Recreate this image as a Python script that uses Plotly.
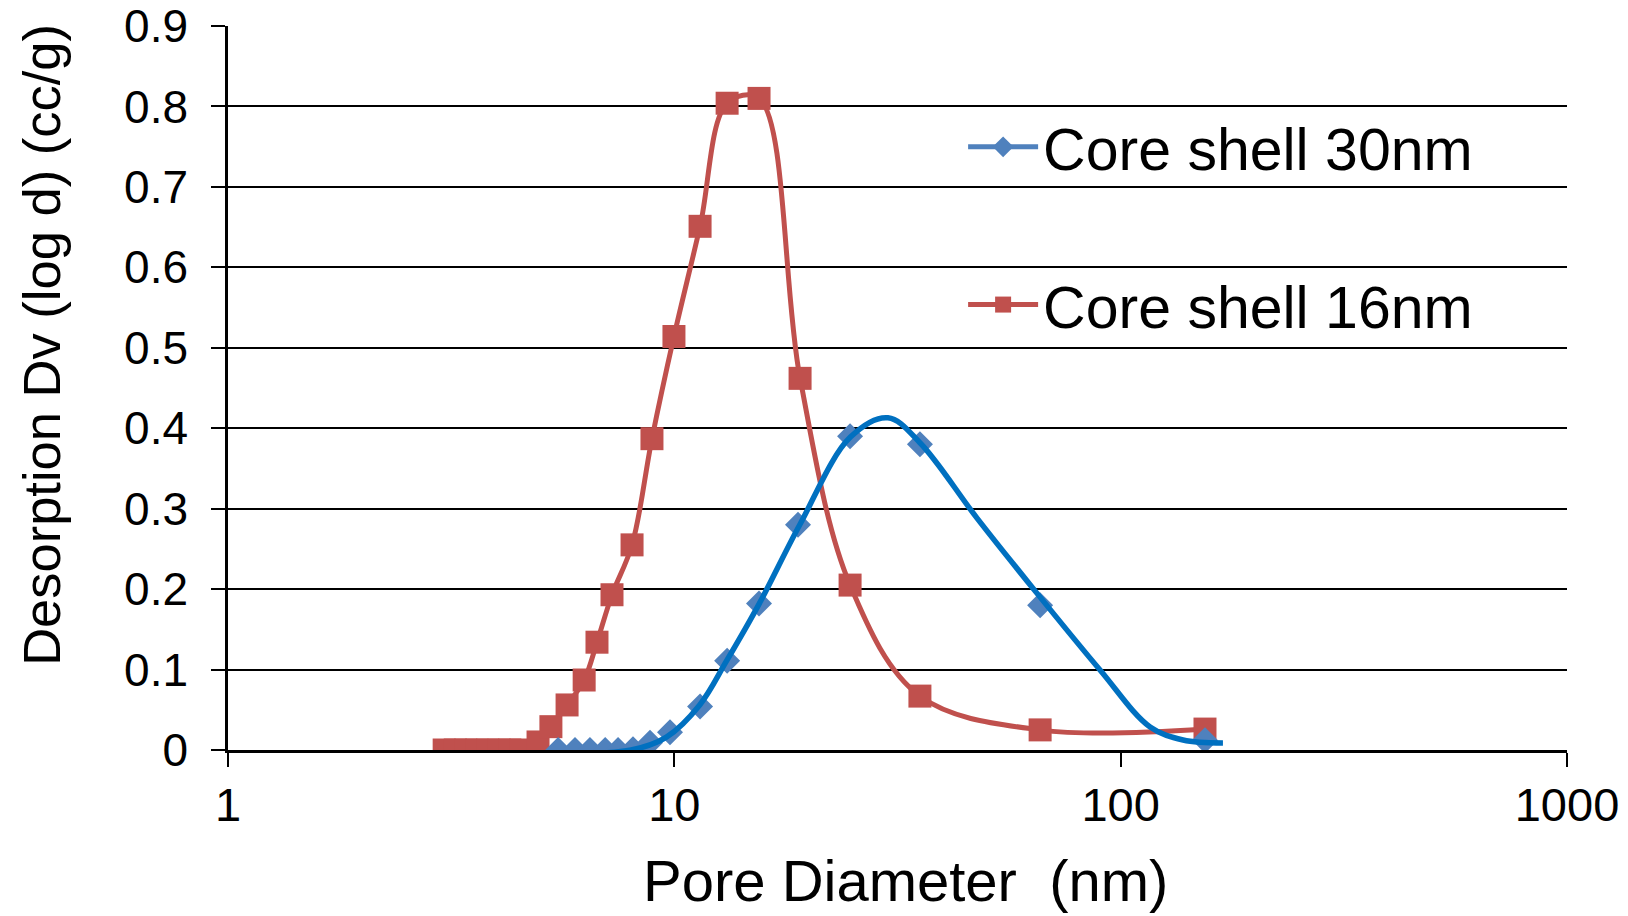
import plotly.graph_objects as go

# ---- data ----
red_name = "Core shell 16nm"
red_x = [3.05, 3.23, 3.41, 3.61, 3.82, 4.05, 4.28, 4.53, 4.95, 5.29, 5.75, 6.28,
         6.71, 7.25, 8.04, 8.91, 9.98, 11.42, 13.13, 15.48, 19.13, 24.76, 35.5,
         66.0, 154.5]
red_y = [0, 0, 0, 0, 0, 0, 0, 0, 0.010, 0.029, 0.056, 0.087,
         0.134, 0.193, 0.255, 0.387, 0.514, 0.651, 0.804, 0.810, 0.462, 0.205, 0.067,
         0.025, 0.026]

blue_name = "Core shell 30nm"
blue_x = [5.49, 5.99, 6.47, 7.00, 7.48, 8.08, 8.82, 9.78, 11.42, 13.13, 15.48,
          18.93, 24.76, 35.5, 66.0, 154.5]
blue_y = [0, 0, 0, 0, 0, 0.001, 0.009, 0.022, 0.054, 0.111, 0.182,
          0.280, 0.390, 0.380, 0.180, 0.012]

# smoothed trend curve drawn for the 30nm sample
fit_x = [5.0, 8.0, 9.6, 11.4, 13.1, 15.5, 19.1, 24.8, 30.1, 35.5, 47.7, 64.9,
         89.9, 116.4, 138.0, 169.5]
fit_y = [-0.005, 0.0, 0.016, 0.056, 0.111, 0.182, 0.280, 0.389, 0.413, 0.382,
         0.288, 0.195, 0.0995, 0.0286, 0.0124, 0.0087]

x_ticks = [1, 10, 100, 1000]
x_tick_text = ["1", "10", "100", "1000"]
y_ticks = [0, 0.1, 0.2, 0.3, 0.4, 0.5, 0.6, 0.7, 0.8, 0.9]
y_tick_text = ["0", "0.1", "0.2", "0.3", "0.4", "0.5", "0.6", "0.7", "0.8", "0.9"]

x_title = "Pore Diameter\u00a0 (nm)"
y_title = "Desorption Dv (log d) (cc/g)"

RED = "#C0504D"
BLUE_M = "#4F81BD"
BLUE_L = "#0070C0"
FONT = "Liberation Sans, Arial, sans-serif"

fig = go.Figure()

# legend entry for the 30nm series (draws nothing)
fig.add_trace(go.Scatter(
    x=[None], y=[None], mode="lines+markers", name=blue_name,
    legendgroup="a",
    line=dict(color=BLUE_M, width=5),
    marker=dict(symbol="diamond", size=20, color=BLUE_M),
))

fig.add_trace(go.Scatter(
    x=red_x, y=red_y, mode="lines+markers", name=red_name,
    legendgroup="b",
    line=dict(color=RED, width=5, shape="spline", smoothing=1.0),
    marker=dict(symbol="square", size=23, color=RED),
))

fig.add_trace(go.Scatter(
    x=blue_x, y=blue_y, mode="markers", name=blue_name, showlegend=False,
    marker=dict(symbol="diamond", size=20, color=BLUE_M),
))

fig.add_trace(go.Scatter(
    x=fit_x, y=fit_y, mode="lines", name=blue_name, showlegend=False,
    line=dict(color=BLUE_L, width=5.5, shape="spline", smoothing=1.0),
))

fig.update_layout(
    width=1628, height=916,
    margin=dict(l=228, r=61, t=26, b=166),
    paper_bgcolor="white", plot_bgcolor="white",
    font=dict(family=FONT, color="black"),
    showlegend=True,
    legend=dict(
        x=0.549, y=0.895, xanchor="left", yanchor="top",
        font=dict(size=59, color="black", family=FONT),
        bgcolor="rgba(0,0,0,0)",
        traceorder="grouped", tracegroupgap=78,
        itemwidth=70,
    ),
    annotations=[
        dict(
            text=y_title, textangle=-90,
            xref="paper", yref="paper", x=-0.139, y=0.5594,
            xanchor="center", yanchor="middle", showarrow=False,
            font=dict(size=52.5, family=FONT, color="black"),
        ),
        dict(
            text=x_title,
            xref="paper", yref="paper", x=0.506, y=-0.180,
            xanchor="center", yanchor="middle", showarrow=False,
            font=dict(size=58, family=FONT, color="black"),
        ),
    ],
)

fig.update_xaxes(
    type="log", range=[0, 3], automargin=False,
    tickvals=x_ticks, ticktext=x_tick_text,
    showgrid=False, zeroline=False,
    showline=True, linecolor="black", linewidth=2.5,
    ticks="outside", ticklen=14, tickwidth=2, tickcolor="black",
    tickfont=dict(size=47, family=FONT, color="black"),
    ticklabelstandoff=-2,
)

fig.update_yaxes(
    range=[0, 0.9], automargin=False,
    tickvals=y_ticks, ticktext=y_tick_text,
    showgrid=True, gridcolor="black", gridwidth=1.6,
    zeroline=False,
    showline=True, linecolor="black", linewidth=2.5,
    ticks="outside", ticklen=14, tickwidth=2, tickcolor="black",
    tickfont=dict(size=46, family=FONT, color="black"),
    ticklabelstandoff=14,
)

fig.write_html("out.html")
